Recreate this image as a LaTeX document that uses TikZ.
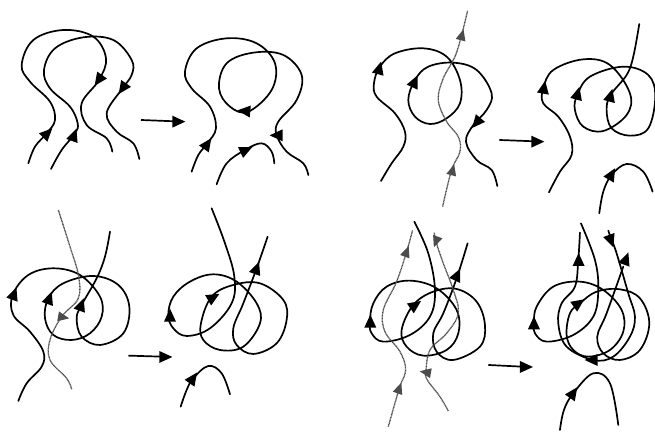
\documentclass[tikz,border=0pt]{standalone}
\newcommand{\arh}[3]{\fill[shift={(#1,#2)},rotate=#3,x=0.333pt,y=0.333pt] (21,0)--(-18,18)--(-18,-18)--cycle;}
\newcommand{\gah}[3]{\fill[black!70,shift={(#1,#2)},rotate=#3,x=0.333pt,y=0.333pt] (18,0)--(-16,15)--(-16,-15)--cycle;}
\tikzset{
 zoomed/.style={x=0.3333pt,y=-0.3333pt},
 strand/.style={line width=1.7pt,line cap=round,line join=round,black},
 ghost/.style={line width=1.3pt,black!70,dash pattern=on 1pt off 0.5pt},
 sm/.style={smooth,tension=0.62},
 flow/.style={line width=1.7pt,black},
}
\begin{document}
\begin{tikzpicture}[x=1pt,y=-1pt]
\useasboundingbox (0,0) rectangle (655,431);
\clip (0,0) rectangle (655,431);
% Panel 1
\begin{scope}[zoomed]
\draw[strand] plot[sm] coordinates {(85,490)(105,440)(140,400)(165,360)(150,305)(90,245)(65,195)(100,120)(190,90)(280,110)(318,175)(297,240)(245,310)(260,375)(320,415)(337,455)};
\draw[strand] plot[sm] coordinates {(153,507)(185,450)(225,400)(233,370)(210,320)(150,265)(132,210)(165,145)(250,112)(340,120)(395,180)(395,225)(365,268)(320,340)(350,395)(400,430)(418,477)};
\arh{142}{400}{45}\arh{222}{406}{70}\arh{296}{240}{-125}\arh{368}{265}{-125}
\draw[strand] plot[sm] coordinates {(575,515)(595,465)(622,430)(648,385)(630,320)(575,265)(555,215)(590,145)(680,115)(770,130)(825,190)(815,270)(745,335)(690,320)(657,265)(680,190)(760,158)(850,165)(905,225)(890,300)(835,365)(830,405)(860,455)(910,490)(925,525)};
\draw[strand] plot[sm] coordinates {(650,553)(680,490)(735,450)(785,430)(815,455)(823,490)};
\arh{622}{432}{55}\arh{733}{333}{175}\arh{830}{406}{180}\arh{738}{450}{25}
\coordinate (a1) at (423,360); \coordinate (b1) at (553,365);
\draw[flow,-] (a1) -- (525,364); \arh{535}{365}{0}
\end{scope}
% Panel 2
\begin{scope}[zoomed,shift={(1020,0)}]
\draw[strand] plot[sm] coordinates {(123,543)(155,490)(190,440)(195,395)(165,340)(110,290)(102,250)(120,200)(165,160)(250,145)(320,170)(360,240)(360,310)(320,355)(270,372)(225,350)(205,300)(225,240)(265,200)(340,188)(410,210)(455,280)(440,330)(400,375)(378,425)(410,480)(455,510)(472,558)};
\arh{118}{205}{75}\arh{224}{245}{65}\arh{410}{368}{-130}
\draw[ghost] plot[sm] coordinates {(308,620)(335,510)(360,455)(355,410)(320,365)(295,300)(310,235)(345,170)(365,105)(383,32)};
\gah{338}{510}{75}\gah{366}{105}{75}
\draw[strand] plot[sm] coordinates {(627,577)(660,515)(695,465)(690,410)(655,350)(610,310)(610,265)(640,210)(730,178)(810,195)(870,280)(860,345)(790,393)(730,380)(705,330)(712,285)(750,230)(850,200)(925,225)(946,290)(925,385)(870,407)(815,385)(800,330)(812,285)(860,225)(880,170)(898,72)};
\draw[strand] plot[sm] coordinates {(778,640)(790,575)(815,525)(860,492)(910,515)(938,575)};
\arh{612}{263}{80}\arh{713}{281}{75}\arh{812}{287}{75}\arh{815}{523}{60}
\coordinate (a2) at (478,420); \coordinate (b2) at (610,425);
\draw[flow] (a2) -- (585,424); \arh{592}{425}{0}
\end{scope}
% Panel 3
\begin{scope}[zoomed,shift={(0,600)}]
\draw[strand] plot[sm] coordinates {(55,603)(80,550)(125,500)(130,455)(90,395)(40,345)(38,285)(85,225)(160,205)(240,225)(300,290)(305,350)(270,400)(215,420)(160,405)(135,355)(145,295)(190,250)(280,228)(355,255)(388,320)(370,400)(300,435)(245,410)(230,355)(245,315)(290,235)(315,170)(330,95)};
\arh{42}{282}{70}\arh{148}{295}{70}\arh{244}{315}{70}
\draw[ghost] plot[sm] coordinates {(215,568)(200,535)(150,480)(150,420)(185,350)(235,295)(235,225)(210,140)(175,30)};
\gah{190}{352}{-10}
\draw[strand] plot[sm] coordinates {(635,25)(675,130)(703,230)(695,310)(630,385)(560,408)(520,385)(505,345)(520,290)(570,245)(640,223)(710,245)(770,310)(780,370)(730,440)(660,450)(610,420)(603,370)(635,290)(700,255)(780,250)(850,300)(860,360)(830,430)(760,462)(710,435)(700,385)(730,310)(770,205)(803,110)};
\draw[strand] plot[sm] coordinates {(542,620)(560,570)(580,535)(625,498)(665,520)(690,583)};
\arh{510}{347}{90}\arh{640}{292}{30}\arh{770}{205}{70}\arh{579}{535}{55}
\coordinate (a3) at (385,467); \coordinate (b3) at (515,472);
\draw[flow] (a3) -- (485,470); \arh{496}{471}{0}
\end{scope}
% Panel 4
\begin{scope}[zoomed,shift={(1020,630)}]
\draw[strand] plot[sm] coordinates {(223,35)(265,130)(285,240)(270,320)(210,375)(130,395)(95,370)(90,335)(100,280)(140,230)(210,212)(290,235)(350,300)(355,370)(320,420)(250,437)(200,410)(185,360)(220,285)(280,245)(350,237)(410,275)(435,345)(420,410)(340,450)(290,425)(280,370)(310,310)(350,205)(383,100)};
\arh{91}{335}{90}\arh{226}{285}{35}\arh{352}{195}{65}
\draw[ghost] plot[sm] coordinates {(145,650)(178,535)(197,480)(180,425)(135,365)(130,300)(170,215)(200,125)(218,60)};
\draw[ghost] plot[sm] coordinates {(325,603)(300,560)(262,510)(258,485)(270,420)(320,370)(355,310)(340,240)(310,160)(288,95)(283,68)};
\gah{178}{535}{70}\gah{200}{125}{70}\gah{257}{487}{170}\gah{288}{95}{-110}
\draw[strand] plot[sm] coordinates {(723,40)(765,150)(775,240)(760,320)(700,375)(620,395)(585,370)(582,340)(590,290)(640,230)(720,215)(790,240)(845,300)(850,365)(810,420)(745,440)(700,420)(680,375)(690,310)(720,280)(770,245)(840,238)(900,265)(928,340)(900,420)(840,450)(790,430)(772,380)(800,310)(850,170)};
\draw[strand] plot[sm] coordinates {(805,62)(815,90)(830,130)(865,250)(885,320)(870,380)(820,440)(760,450)(680,410)(655,340)(665,280)(705,230)(715,150)(720,68)};
\arh{582}{340}{90}\arh{716}{150}{90}\arh{716}{280}{35}\arh{755}{450}{180}\arh{858}{147}{70}\arh{813}{92}{-70}
\draw[strand] plot[sm] coordinates {(660,660)(672,600)(700,550)(760,490)(810,520)(835,645)};
\arh{700}{549}{55}
\coordinate (a4) at (445,465); \coordinate (b4) at (577,472);
\draw[flow] (a4) -- (545,470); \arh{558}{471}{0}
\end{scope}
\end{tikzpicture}
\end{document}
